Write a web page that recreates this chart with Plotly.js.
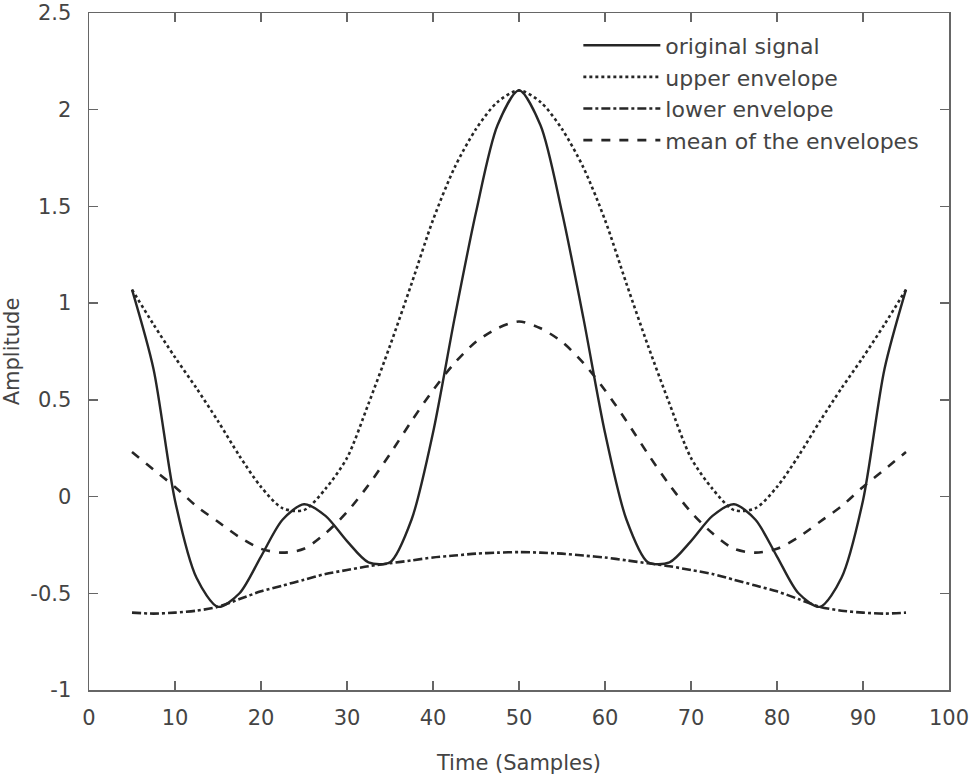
<!DOCTYPE html>
<html>
<head>
<meta charset="utf-8">
<script src="https://cdn.plot.ly/plotly-3.0.1.min.js"></script>
<style>html,body{margin:0;padding:0;background:#fff;}#chart{width:972px;height:778px;}</style>
</head>
<body>
<div id="chart"></div>
<script>
const timeSamples = [5,7.5,10,12.5,15,17.5,20,22.5,25,27.5,30,32.5,35,37.5,40,42.5,45,47.5,50,
  52.5,55,57.5,60,62.5,65,67.5,70,72.5,75,77.5,80,82.5,85,87.5,90,92.5,95];

const originalSignal = [1.07,0.66,-0.02,-0.42,-0.57,-0.50,-0.31,-0.12,-0.04,-0.10,-0.23,-0.34,-0.34,-0.12,0.33,0.92,1.47,1.92,2.10,
  1.92,1.47,0.92,0.33,-0.12,-0.34,-0.34,-0.23,-0.10,-0.04,-0.12,-0.31,-0.50,-0.57,-0.42,-0.02,0.66,1.07];

const upperEnvelope = [1.07,0.89,0.72,0.56,0.39,0.21,0.05,-0.06,-0.07,0.04,0.20,0.48,0.78,1.10,1.43,1.70,1.90,2.04,2.10,
  2.04,1.90,1.70,1.43,1.10,0.78,0.48,0.20,0.04,-0.07,-0.06,0.05,0.21,0.39,0.56,0.72,0.89,1.07];

const lowerEnvelope = [-0.60,-0.605,-0.60,-0.59,-0.57,-0.53,-0.49,-0.46,-0.43,-0.40,-0.38,-0.36,-0.345,-0.33,-0.315,-0.305,-0.295,-0.29,-0.287,
  -0.29,-0.295,-0.305,-0.315,-0.33,-0.345,-0.36,-0.38,-0.40,-0.43,-0.46,-0.49,-0.53,-0.57,-0.59,-0.60,-0.605,-0.60];

const meanEnvelope = [0.23,0.14,0.05,-0.05,-0.13,-0.21,-0.27,-0.29,-0.27,-0.19,-0.08,0.06,0.22,0.39,0.55,0.69,0.80,0.87,0.905,
  0.87,0.80,0.69,0.55,0.39,0.22,0.06,-0.08,-0.19,-0.27,-0.29,-0.27,-0.21,-0.13,-0.05,0.05,0.14,0.23];

const seriesNames = ['original signal','upper envelope','lower envelope','mean of the envelopes'];

const xTicks = [0,10,20,30,40,50,60,70,80,90,100];
const yTicks = [-1,-0.5,0,0.5,1,1.5,2,2.5];
const yTickText = ['-1','-0.5','0','0.5','1','1.5','2','2.5'];

const lineColor = '#262626';
const mk = (y, name, dash, w) => ({
  x: timeSamples, y: y, name: name, type: 'scatter', mode: 'lines',
  line: {color: lineColor, width: w, dash: dash, shape: 'spline', smoothing: 0.8}
});

const data = [
  mk(originalSignal, seriesNames[0], 'solid', 2.4),
  mk(upperEnvelope, seriesNames[1], 'dot', 2.6),
  mk(lowerEnvelope, seriesNames[2], 'dashdot', 2.6),
  mk(meanEnvelope, seriesNames[3], 'dash', 2.6)
];

const FAMILY = 'DejaVu Sans, Liberation Sans, Arial, sans-serif';
const axisFont = {family: FAMILY, size: 21, color: '#444'};
const layout = {
  width: 972, height: 778,
  margin: {l: 89, r: 23, t: 13, b: 88},
  paper_bgcolor: '#fff', plot_bgcolor: '#fff',
  showlegend: true,
  font: axisFont,
  xaxis: {
    range: [0, 100], tickvals: xTicks, ticktext: xTicks.map(String),
    showgrid: false, zeroline: false, showline: true, mirror: 'ticks',
    linecolor: '#666', linewidth: 1.5, ticks: 'inside', ticklen: 9, tickcolor: '#666', tickwidth: 1.5,
    tickfont: axisFont, ticklabelstandoff: 8,
    title: {text: 'Time (Samples)', font: axisFont, standoff: 26}
  },
  yaxis: {
    range: [-1, 2.5], tickvals: yTicks, ticktext: yTickText,
    showgrid: false, zeroline: false, showline: true, mirror: 'ticks',
    linecolor: '#666', linewidth: 1.5, ticks: 'inside', ticklen: 9, tickcolor: '#666', tickwidth: 1.5,
    tickfont: axisFont, ticklabelstandoff: 12,
    title: {text: 'Amplitude', font: axisFont, standoff: 12}
  },
  legend: {
    x: 0.569, y: 0.983, xanchor: 'left', yanchor: 'top',
    bgcolor: 'rgba(0,0,0,0)', borderwidth: 0,
    font: {family: FAMILY, size: 22, color: '#444'},
    itemwidth: 77, tracegroupgap: 0
  }
};

Plotly.newPlot('chart', data, layout, {displayModeBar: false, staticPlot: true});
</script>
</body>
</html>
